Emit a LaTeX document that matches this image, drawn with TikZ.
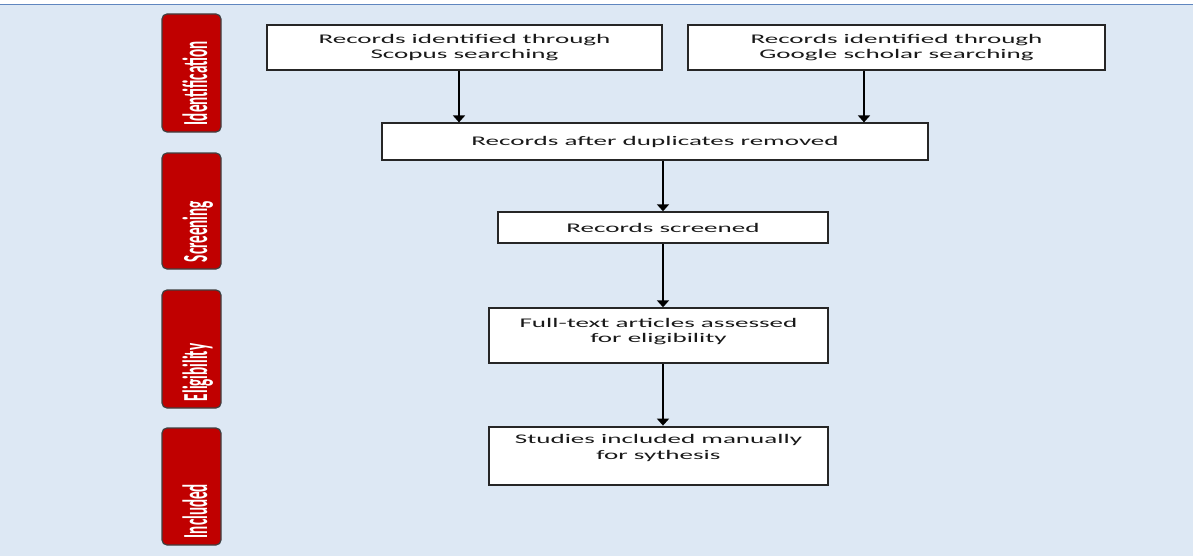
\documentclass[tikz,border=0pt]{standalone}
\usepackage{fontspec}
\usetikzlibrary{arrows.meta,calc}
\newfontfamily\boxfont[FakeStretch=2.05]{Carlito}
\newfontfamily\tabfont[FakeStretch=0.43]{Carlito}
\definecolor{bgblue}{HTML}{DDE8F4}
\definecolor{tabred}{HTML}{C00000}
\definecolor{topline}{HTML}{5F86BF}
\definecolor{boxline}{HTML}{262626}
\tikzset{
  stagebox/.style={draw=boxline, line width=1pt, fill=white, inner sep=0pt,
    align=center, text=black!90, font=\boxfont\fontsize{6.6}{7.8}\selectfont},
  stagetab/.style={draw=black!75, line width=0.6pt, fill=tabred, rounded corners=2.5pt},
  tabtext/.style={rotate=90, anchor=base west, inner sep=0pt, text=white,
    font=\tabfont\bfseries\fontsize{17.6}{18}\selectfont},
  flow/.style={draw=black, line width=1pt, -{Triangle[width=6pt,length=3.5pt]}}
}
\begin{document}
\begin{tikzpicture}[x=0.5pt,y=-0.5pt]
% stages on the left, records flow in the middle
\useasboundingbox (0,0) rectangle (1193,556);
\fill[bgblue] (0,4.5) rectangle (1193,556);
\draw[topline, line width=0.6pt] (0,4.5) -- (1193,4.5);

\foreach \n/\t/\b/\s in
{ ident/14/132/Identification,
  screen/153/269/Screening,
  elig/290/408/Eligibility,
  incl/428/545/Included
}
{
    \draw[stagetab] (162,\t) rectangle (221,\b);
    \node[tabtext] (\n) at (207,{\b-6.5}) {\s};
};

\node[stagebox, minimum width=197.5pt, minimum height=22.5pt] (scopus) at (464.5,47.5)
  {Records identified through\\Scopus searching};
\node[stagebox, minimum width=208.5pt, minimum height=22.5pt] (scholar) at (896.5,47.5)
  {Records identified through\\Google scholar searching};
\node[stagebox, minimum width=273pt, minimum height=18.3pt] (dup) at (655,141.7)
  {Records after duplicates removed};
\node[stagebox, minimum width=165pt, minimum height=15.5pt] (screened) at (663,227.8)
  {Records screened};
\node[stagebox, minimum width=169.5pt, minimum height=27.5pt, text depth=5.3pt] (full) at (658.5,335.8)
  {Full-text articles assessed\\for eligibility};
\node[stagebox, minimum width=169.5pt, minimum height=29.2pt, text depth=8.6pt] (studies) at (658.5,455.8)
  {Studies included manually\\for sythesis};

\draw[flow] ([xshift=-2.75pt]scopus.south) -- ([xshift=-2.75pt]scopus.south |- dup.north);
\draw[flow] ([xshift=-16.25pt]scholar.south) -- ([xshift=-16.25pt]scholar.south |- dup.north);
\draw[flow] (screened.north |- dup.south) -- (screened.north);
\draw[flow] (screened.south) -- (screened.south |- full.north);
\draw[flow] (screened.south |- full.south) -- (screened.south |- studies.north);
\end{tikzpicture}
\end{document}
